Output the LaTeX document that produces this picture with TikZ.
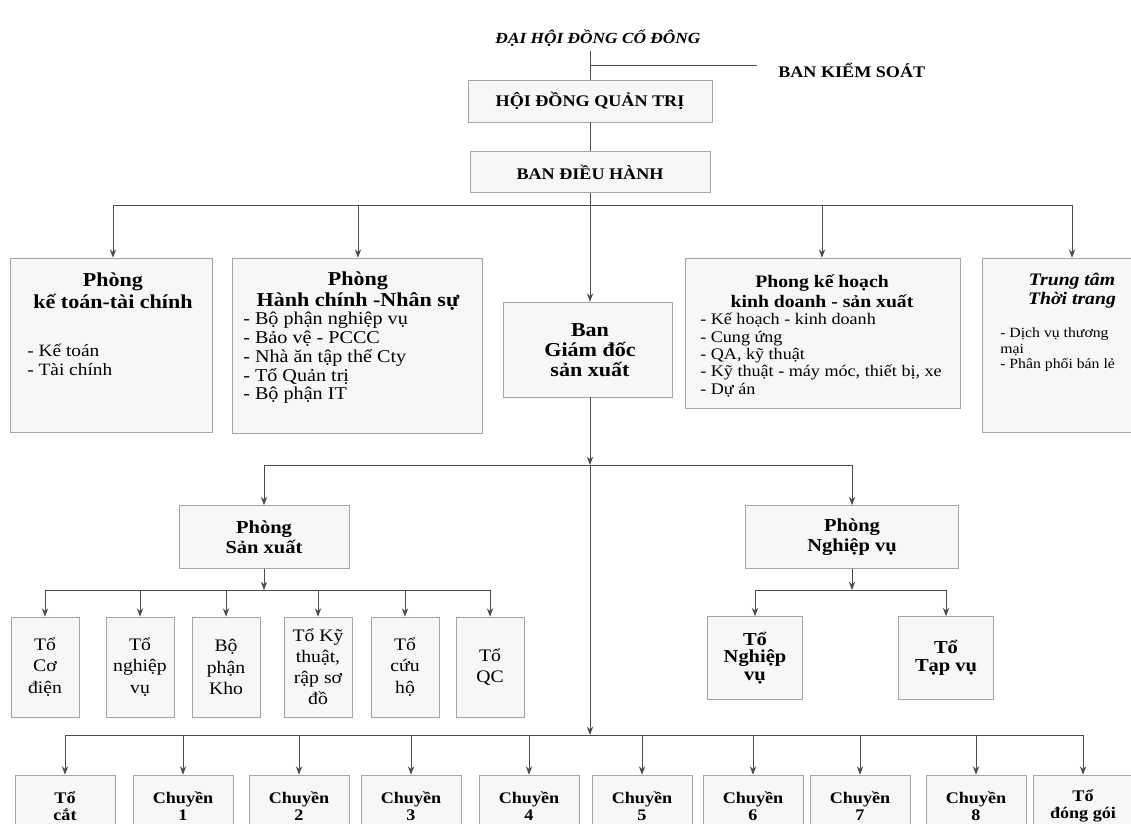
\documentclass[tikz,border=0pt]{standalone}
\usepackage{fontspec}
\setmainfont{Liberation Serif}[FakeStretch=1.12]
\usetikzlibrary{arrows.meta,fit}

\tikzset{
	panel/.style={draw=black!35, line width=0.4pt, fill=black!3, inner sep=0pt},
	link/.style={draw=black!70, line width=0.6pt},
	arr/.style={link, -{Stealth[length=6pt,width=4.5pt]}},
	capstext/.style={font=\bfseries\fontsize{11.5}{13}\selectfont},
	head/.style={font=\bfseries\fontsize{14}{15.5}\selectfont, align=center, inner sep=0pt},
	items/.style={font=\fontsize{12.8}{13.3}\selectfont, align=left, anchor=west, inner sep=0pt},
	team/.style={font=\fontsize{12.5}{15}\selectfont, align=center},
	unit/.style={font=\bfseries\fontsize{11.5}{12}\selectfont, align=center},
}

\begin{document}
\begin{tikzpicture}[x=0.025cm, y=-0.025cm]
	\useasboundingbox (0,0) rectangle (1131,823); % page
	% top of the chart
	\node[font=\bfseries\itshape\fontsize{11}{13}\selectfont] (dhcd) at (598,38) {ĐẠI HỘI ĐỒNG CỔ ĐÔNG};
	\node[panel, capstext, minimum width=6.1cm, minimum height=1.05cm] (hdqt) at (590,101) {HỘI ĐỒNG QUẢN TRỊ};
	\node[panel, capstext, minimum width=6cm, minimum height=1.025cm] (bdh) at (590,172) {BAN ĐIỀU HÀNH};
	\node[capstext, anchor=west, inner sep=0pt] (bks) at (778,70) {BAN KIỂM SOÁT};
	\coordinate (ksjoin) at (590,65);
	\coordinate (ksend) at (757,65);
	\draw[link] (dhcd.south -| hdqt.north) -- (hdqt.north);
	\draw[link] (ksjoin) -- (ksend); % to Ban kiem soat
	\draw[link] (hdqt) -- (bdh);

	% second row
	\node[panel, fit={(10,258) (212,432)}] (kt) {};
	\node[head] (kthead) at (113,291) {Phòng\\kế toán-tài chính};
	\node[items, font=\fontsize{12.3}{13.3}\selectfont] (ktlist) at (27,360) {- Kế toán\\- Tài chính};

	\node[panel, fit={(232,258) (482,433)}] (hcns) {};
	\node[head] (hcnshead) at (358,291) {Phòng\\Hành chính -Nhân sự};
	\node[items] (hcnslist) at (243,358) {- Bộ phận nghiệp vụ\\- Bảo vệ - PCCC\\- Nhà ăn tập thể Cty\\- Tổ Quản trị\\- Bộ phận IT};

	\node[panel, fit={(503,302) (672,397)}] (ban) {};
	\node[head, font=\bfseries\fontsize{14}{14.2}\selectfont] (banhead) at (590,350) {Ban\\Giám đốc\\sản xuất};

	\node[panel, fit={(685,258) (960,408)}] (kh) {};
	\node[head, font=\bfseries\fontsize{12.5}{14}\selectfont] (khhead) at (822,291) {Phong kế hoạch\\kinh doanh - sản xuất};
	\node[items, font=\fontsize{11.5}{12.4}\selectfont] (khlist) at (700,355) {- Kế hoạch - kinh doanh\\- Cung ứng\\- QA, kỹ thuật\\- Kỹ thuật - máy móc, thiết bị, xe\\- Dự án};

	\node[panel, fit={(982,258) (1160,432)}] (tt) {};
	\node[head, font=\bfseries\itshape\fontsize{12.5}{13.5}\selectfont] (tthead) at (1072,291) {Trung tâm\\Thời trang};
	\node[items, font=\fontsize{10}{11}\selectfont] (ttlist) at (1000,350) {- Dịch vụ thương\\mại\\- Phân phối bán lẻ};

	\coordinate (bus1) at (590,205);
	\draw[link] (bdh.south) -- (bus1);
	\draw[link] (bus1 -| kthead) -- (bus1 -| tthead);
	\foreach \n in {kt,hcns,kh,tt}
		\draw[arr] (bus1 -| \n head) -- (\n.north -| \n head);
	\draw[arr] (bus1) -- (ban.north -| banhead);

	% third row
	\node[panel, head, font=\bfseries\fontsize{13}{14.2}\selectfont, minimum width=4.25cm, minimum height=1.575cm] (sx) at (264,537) {Phòng\\Sản xuất};
	\node[panel, head, font=\bfseries\fontsize{13}{14.2}\selectfont, minimum width=5.325cm, minimum height=1.575cm] (nv) at (852,537) {Phòng\\Nghiệp vụ};
	\coordinate (bus2) at (590,465);
	\draw[arr] (ban.south -| banhead) -- (bus2);
	\draw[link] (bus2 -| sx) -- (bus2 -| nv);
	\draw[arr] (bus2 -| sx) -- (sx.north);
	\draw[arr] (bus2 -| nv) -- (nv.north);

	% teams of Phong San xuat
	\foreach \i/\x/\t in {1/45/{Tổ\\Cơ\\điện}, 2/140/{Tổ\\nghiệp\\vụ}, 3/226/{Bộ\\phận\\Kho}, 4/318/{Tổ Kỹ\\thuật,\\rập sơ\\đồ}, 5/405/{Tổ\\cứu\\hộ}, 6/490/{Tổ\\QC}}
		\node[panel, team, minimum width=1.7cm, minimum height=2.5cm] (s\i) at (\x,667) {\t};
	\coordinate (bus3) at (264,590);
	\draw[arr] (sx.south) -- (bus3);
	\draw[link] (bus3 -| s1) -- (bus3 -| s6);
	\foreach \i in {1,...,6}
		\draw[arr] (bus3 -| s\i) -- (s\i.north);

	% teams of Phong Nghiep vu
	\node[panel, unit, font=\bfseries\fontsize{13}{12.5}\selectfont, minimum width=2.375cm, minimum height=2.075cm] (n1) at (755,658) {Tổ\\Nghiệp\\vụ};
	\node[panel, unit, font=\bfseries\fontsize{13}{12.5}\selectfont, minimum width=2.375cm, minimum height=2.075cm] (n2) at (946,658) {Tổ\\Tạp vụ};
	\coordinate (bus5) at (852,590);
	\draw[arr] (nv.south) -- (bus5);
	\draw[link] (bus5 -| n1) -- (bus5 -| n2);
	\draw[arr] (bus5 -| n1) -- (n1.north);
	\draw[arr] (bus5 -| n2) -- (n2.north);

	% production lines
	\foreach \i/\x/\t in {0/65/{Tổ\\cắt}, 1/183/{Chuyền\\1}, 2/299/{Chuyền\\2}, 3/411/{Chuyền\\3}, 4/529/{Chuyền\\4}, 5/642/{Chuyền\\5}, 6/753/{Chuyền\\6}, 7/860/{Chuyền\\7}, 8/976/{Chuyền\\8}, 9/1083/{Tổ\\đóng gói}}
		\node[panel, unit, minimum width=2.5cm, minimum height=1.55cm] (c\i) at (\x,806) {\t};
	\coordinate (bus4) at (590,735);
	\draw[arr] (bus2) -- (bus4);
	\draw[link] (bus4 -| c0) -- (bus4 -| c9);
	\foreach \i in {0,...,9}
		\draw[arr] (bus4 -| c\i) -- (c\i.north);
\end{tikzpicture}
\end{document}
